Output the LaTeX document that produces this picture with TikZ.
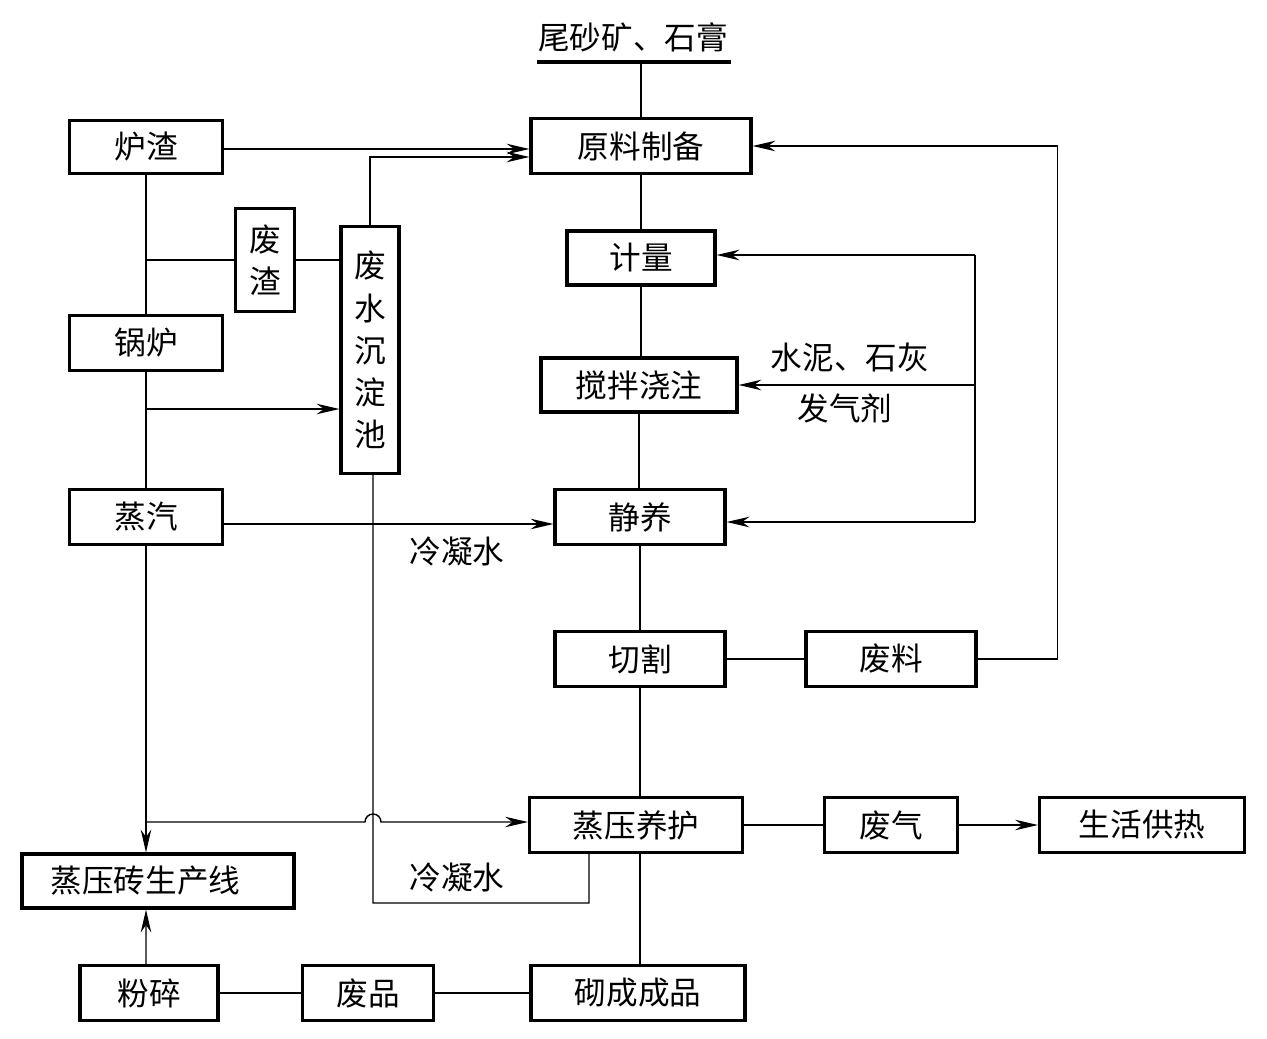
\documentclass[tikz,border=0pt]{standalone}
\usepackage{fontspec}
\setmainfont{Noto Sans CJK SC}
\usetikzlibrary{arrows.meta}
\begin{document}
\begin{tikzpicture}[x=0.02cm,y=-0.02cm,
    box/.style={draw,line width=1.8pt,inner sep=0pt,minimum height=1.1cm,
        font=\fontsize{18}{24}\selectfont},
    vbox/.style={box,align=center,minimum width=1.18cm},
    lbl/.style={font=\fontsize{18}{24}\selectfont},
    line/.style={line width=0.8pt},
    arr/.style={line,-{Stealth[length=13pt,width=6pt]}}]
    \useasboundingbox (0,0) rectangle (1267,1038);
    % \draw[help lines, color=gray!30, dashed] (0,0) grid[step=1cm] (1267,1038);

    % main column
    \node[lbl] (wsk) at (633,37) {尾砂矿、石膏};
    \node[box,minimum width=4.4cm] (yl) at (641,146) {原料制备};
    \node[box,minimum width=2.96cm,minimum height=1.08cm] (jl) at (641,258) {计量};
    \node[box,minimum width=3.92cm,minimum height=1.08cm] (jb) at (639,385) {搅拌浇注};
    \node[box,minimum width=3.4cm] (jy) at (640,517) {静养};
    \node[box,minimum width=3.4cm] (qg) at (640,659) {切割};
    \node[box,minimum width=4.26cm] (zyh) at (636,825) {蒸压养护};
    \node[box,minimum width=4.28cm] (cp) at (638,993) {砌成成品};

    % left column
    \node[box,minimum width=3.06cm,minimum height=1.06cm] (lz) at (146,147) {炉渣};
    \node[box,minimum width=3.06cm] (gl) at (146,343) {锅炉};
    \node[box,minimum width=3.06cm] (zq) at (146,517) {蒸汽};
    \node[vbox,minimum height=2.06cm] (fz) at (265,260) {废\\渣};
    \node[vbox,minimum width=1.16cm,minimum height=4.94cm] (fs) at (370,350) {废\\水\\沉\\淀\\池};
    \node[box,minimum width=5.44cm,minimum height=1.08cm] (scx) at (158,881) {蒸压砖生产线\kern0.5cm};
    \node[box,minimum width=2.76cm] (fsui) at (149,993) {粉碎};
    \node[box,minimum width=2.62cm] (fp) at (368,993) {废品};

    % right side
    \node[box,minimum width=3.4cm] (fl) at (891,659) {废料};
    \node[box,minimum width=2.66cm] (fq) at (891,825) {废气};
    \node[box,minimum width=4.1cm] (shr) at (1142,825) {生活供热};

    % labels
    \node[lbl] (sn) at (850,357) {水泥、石灰};
    \node[lbl] (fqj) at (845,408) {发气剂};
    \node[lbl] (lns1) at (457,551) {冷凝水};
    \node[lbl] (lns2) at (457,877) {冷凝水};

    % raw material in
    \coordinate (u1) at (537,62);
    \coordinate (u2) at (731,62);
    \draw[line width=1.8pt] (u1) -- (u2);
    \draw[line] (yl.north |- u1) -- (yl.north);

    % main flow
    \draw[line] (yl.south) -- (yl.south |- jl.north);
    \draw[line] (jl.south) -- (jl.south |- jb.north);
    \draw[line] (jb.south) -- (jb.south |- jy.north);
    \draw[line] (jy.south) -- (jy.south |- qg.north);
    \draw[line] (qg.south) -- (qg.south |- zyh.north);
    \draw[line] (zyh.south -| qg.south) -- (qg.south |- cp.north);

    % slag and boiler
    \draw[arr] ([yshift=-0.04cm]lz.east) -- ([yshift=-0.04cm]lz.east -| yl.west);
    \draw[arr] (fs.north) |- ([yshift=-0.22cm]yl.west);
    \draw[line] (lz.south) -- (gl.north);
    \draw[line] (lz.south |- fz.west) -- (fz.west);
    \draw[line] (fz.east) -- (fz.east -| fs.west);
    \draw[line] (gl.south) -- (zq.north);
    \coordinate (j1) at (146,409);
    \draw[arr] (j1) -- (j1 -| fs.west);
    \draw[arr] ([yshift=-0.14cm]zq.east) -- ([yshift=-0.14cm]zq.east -| jy.west);
    \coordinate (j2) at (146,822);
    \draw[line] (zq.south) -- (j2);
    \draw[arr] (j2) -- (j2 |- scx.north);
    \draw[arr] (j2) -- ([xshift=-0.1cm]j2 -| fs.south)
        arc[start angle=180,end angle=0,radius=0.16cm] -- (j2 -| zyh.west);

    % condensate back to the pond
    \coordinate (c1) at (373,903);
    \draw[line] ([xshift=0.06cm]fs.south) -- (c1) -| ([xshift=-0.94cm]zyh.south);

    % additives
    \coordinate (r1) at (975,255);
    \coordinate (r3) at (975,522);
    \draw[line] (r1) -- (r3);
    \draw[arr] (r1) -- (r1 -| jl.east);
    \draw[arr] (r1 |- jb.east) -- (jb.east);
    \draw[arr] (r3) -- (r3 -| jy.east);

    % waste loops
    \draw[line] (qg.east) -- (fl.west);
    \draw[arr] (fl.east) -- ++(80,0) |- (yl.east);
    \draw[line] (zyh.east) -- (fq.west);
    \draw[arr] (fq.east) -- (shr.west);
    \draw[line] (fsui.east) -- (fp.west);
    \draw[line] (fp.east) -- (cp.west);
    \draw[arr] (fsui.north -| scx.south) ++(-12,0) -- ([xshift=-0.24cm]scx.south);
\end{tikzpicture}
\end{document}
